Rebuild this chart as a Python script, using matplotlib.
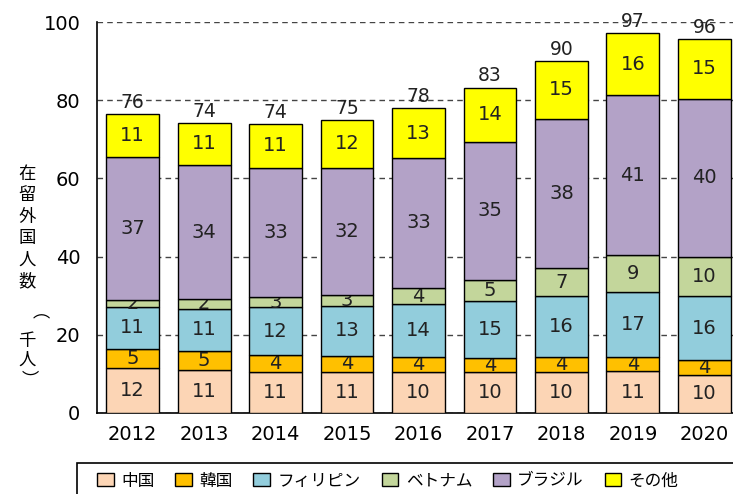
import matplotlib.pyplot as plt
from matplotlib.patches import Rectangle
import numpy as np

plt.rcParams['font.family'] = ['Noto Sans CJK JP', 'DejaVu Sans']

years = ['2012', '2013', '2014', '2015', '2016', '2017', '2018', '2019', '2020']
names = ['中国', '韓国', 'フィリピン', 'ベトナム', 'ブラジル', 'その他']
colors = ['#FCD5B5', '#FFC000', '#92CDDC', '#C3D69B', '#B3A2C7', '#FFFF00']

# thousand people
china = [11.6, 11.0, 10.6, 10.6, 10.4, 10.4, 10.4, 10.7, 9.8]
korea = [4.8, 4.9, 4.3, 4.0, 3.9, 3.6, 3.9, 3.6, 3.8]
philippines = [10.7, 10.8, 12.1, 12.8, 13.6, 14.7, 15.5, 16.7, 16.2]
vietnam = [1.8, 2.4, 2.7, 2.9, 4.0, 5.4, 7.2, 9.4, 10.2]
brazil = [36.6, 34.3, 33.0, 32.4, 33.4, 35.3, 38.3, 40.9, 40.4]
other = [10.9, 10.8, 11.2, 12.2, 12.6, 13.8, 14.7, 15.8, 15.2]
series = [china, korea, philippines, vietnam, brazil, other]

fig = plt.figure(figsize=(7.33, 4.94), dpi=100)
ax = fig.add_axes([97 / 733, 1 - 413 / 494, 643 / 733, 391 / 494])

x = np.arange(len(years))
bottom = np.zeros(len(years))
for name, vals, c in zip(names, series, colors):
    vals = np.array(vals)
    bars = ax.bar(x, vals, 0.74, bottom=bottom, color=c, edgecolor='black',
                  linewidth=1, label=name, zorder=3)
    labels = [f'{v:.0f}' for v in vals]
    ax.bar_label(bars, labels=labels, label_type='center', fontsize=14,
                 color='#222222', family=['DejaVu Sans'])
    bottom += vals

for xi, tot in zip(x, bottom):
    ax.text(xi, tot + 0.6, f'{tot:.0f}', ha='center', va='bottom', fontsize=13.5,
            color='#222222', family=['DejaVu Sans'], zorder=4)

ax.set_xlim(-0.5, 8.5)
ax.set_ylim(0, 100)
ax.set_yticks([0, 20, 40, 60, 80, 100])
ax.set_xticks(x)
ax.set_xticklabels(years)
ax.tick_params(length=0, labelsize=14, pad=9)
ax.tick_params(axis='y', pad=12)
for lab in ax.get_xticklabels() + ax.get_yticklabels():
    lab.set_family(['DejaVu Sans'])
ax.yaxis.grid(True, linestyle=(0, (4, 3)), color='#444444', linewidth=1, zorder=0)
for s in ['top', 'right']:
    ax.spines[s].set_visible(False)
ax.spines['left'].set_linewidth(1.2)
ax.spines['bottom'].set_linewidth(1.2)

# vertical axis title, one character per line
title_chars = ['在', '留', '外', '国', '人', '数']
for i, ch in enumerate(title_chars):
    fig.text(27 / 733, 1 - (174 + 21.4 * i) / 494, ch, ha='center', va='center',
             fontsize=12.5)
fig.text(27 / 733, 1 - 322 / 494, '（', ha='center', va='center', fontsize=12.5,
         rotation=270)
fig.text(27 / 733, 1 - 341 / 494, '千', ha='center', va='center', fontsize=12.5)
fig.text(27 / 733, 1 - 360 / 494, '人', ha='center', va='center', fontsize=12.5)
fig.text(27 / 733, 1 - 378 / 494, '）', ha='center', va='center', fontsize=12.5,
         rotation=270)

fig.add_artist(Rectangle((77 / 733, -0.05), 0.95, (494 - 463) / 494 + 0.05,
                         transform=fig.transFigure, fill=False,
                         edgecolor='black', linewidth=1.2))
fig.legend(loc='center left', bbox_to_anchor=(97 / 733, 1 - 481 / 494), ncol=6,
           frameon=False, fontsize=12, handlelength=1.0, handleheight=0.85,
           handletextpad=0.45, columnspacing=1.25, borderaxespad=0, borderpad=0)

fig.savefig('out.png', dpi=100)
